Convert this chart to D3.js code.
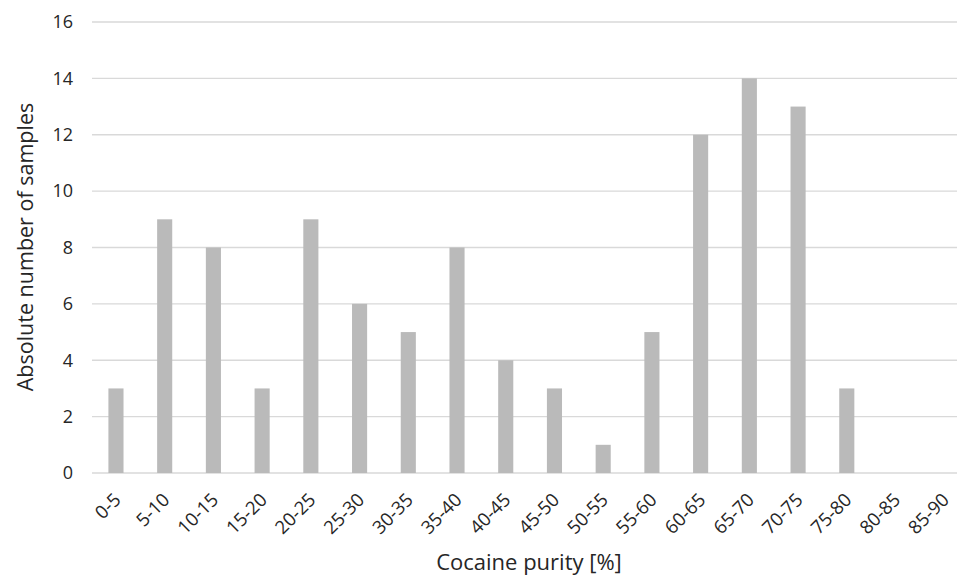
<!DOCTYPE html>
<html><head><meta charset="utf-8">
<script src="https://cdn.jsdelivr.net/npm/d3@7"></script>
<style>body{margin:0;background:#fff}svg{display:block}text{font-family:"Open Sans",sans-serif;fill:#262626}</style>
</head><body><svg id="c" width="957" height="575"></svg>
<script>
const categories = ["0-5","5-10","10-15","15-20","20-25","25-30","30-35","35-40","40-45","45-50","50-55","55-60","60-65","65-70","70-75","75-80","80-85","85-90"];
const values = [3,9,8,3,9,6,5,8,4,3,1,5,12,14,13,3,0,0];
const yTicks = [0,2,4,6,8,10,12,14,16];

const svg = d3.select("#c");
const x = d3.scaleBand().domain(categories).range([91.6, 968.6]).paddingInner(0.69).paddingOuter(0.345);
const y = d3.scaleLinear().domain([0,16]).range([473, 22]);

svg.append("g").selectAll("line").data(yTicks).join("line")
  .attr("x1", 92).attr("x2", 957).attr("y1", d=>y(d)).attr("y2", d=>y(d))
  .attr("stroke", "#d9d9d9").attr("stroke-width", 1.3);

svg.append("g").selectAll("rect").data(values).join("rect")
  .attr("x", (d,i)=>x(categories[i])).attr("width", x.bandwidth())
  .attr("y", d=>y(d)).attr("height", d=>y(0)-y(d)).attr("fill", "#bababa");

svg.append("g").selectAll("text").data(yTicks).join("text")
  .attr("x", 73).attr("y", d=>y(d)).attr("dy", "0.35em").attr("text-anchor","end")
  .attr("font-size", 18).text(d=>d);

svg.append("g").selectAll("text").data(categories).join("text")
  .attr("text-anchor","end").attr("font-size", 18.5)
  .attr("transform", d=>`translate(${x(d)+x.bandwidth()/2+6},${501}) rotate(-45)`)
  .text(d=>d);

svg.append("text").attr("x", 529).attr("y", 570).attr("text-anchor","middle").attr("font-size", 22).text("Cocaine purity [%]");
svg.append("text").attr("transform","translate(33,247) rotate(-90)").attr("text-anchor","middle").attr("font-size", 21.5).text("Absolute number of samples");
</script></body></html>
